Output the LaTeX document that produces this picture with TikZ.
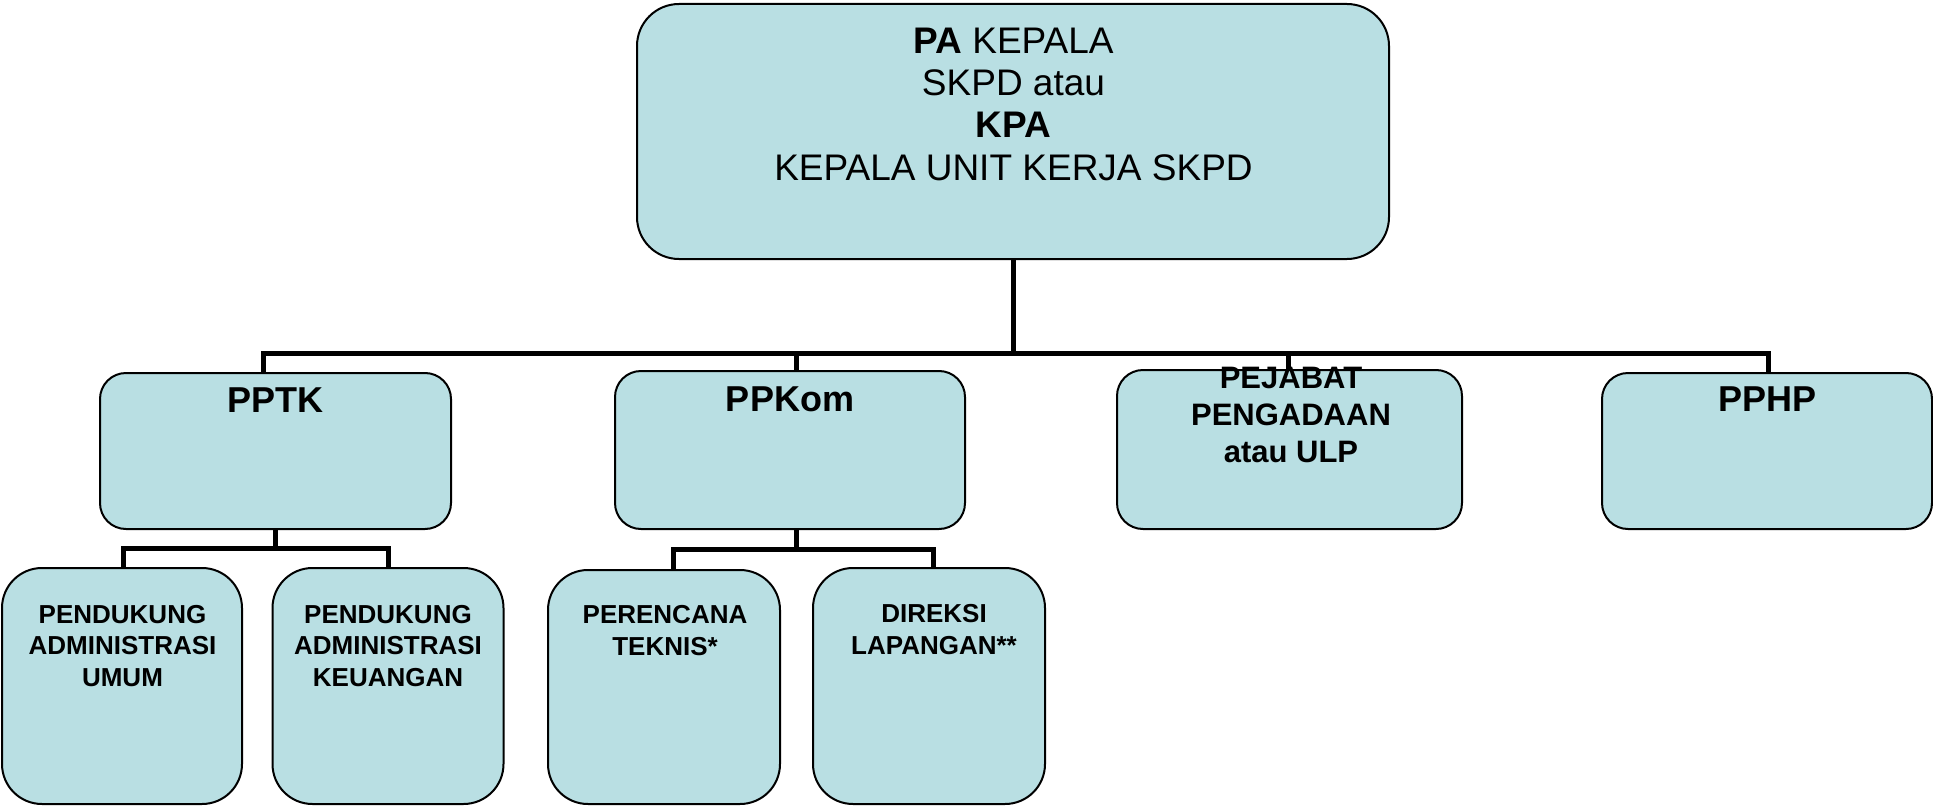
\documentclass[tikz,border=0pt]{standalone}
\usepackage{fontspec}
\setmainfont{Liberation Sans}
\definecolor{boxfill}{RGB}{185,223,227}
\begin{document}
\begin{tikzpicture}[x=1pt,y=-1pt,
  box/.style={draw=black, line width=2pt, fill=boxfill, rounded corners=#1,
    inner sep=0pt, outer sep=0pt, rectangle},
  box/.default=26pt,
  conn/.style={draw=black, line width=5pt},
  lbl/.style={anchor=base, align=center, inner sep=0pt},
  headtxt/.style={lbl, font=\fontsize{37}{42.3}\selectfont},
  midtxt/.style={lbl, font=\bfseries\fontsize{36}{42}\selectfont},
  pptxt/.style={lbl, font=\bfseries\fontsize{31}{37}\selectfont},
  lowtxt/.style={lbl, font=\bfseries\fontsize{26}{31.2}\selectfont}]
\useasboundingbox (0,0) rectangle (1933,808);

% bus levels of the elbow connectors
\coordinate (busA) at (0,353);
\coordinate (busB) at (0,548);
\coordinate (busC) at (0,549);

% boxes
\node[box=42pt, minimum width=752pt, minimum height=255pt] (top) at (1013,131.5) {};
\node[box, minimum width=351pt, minimum height=156pt] (pptk) at (275.5,451) {};
\node[box, minimum width=350pt, minimum height=158pt] (ppkom) at (790,450) {};
\node[box, minimum width=345pt, minimum height=159pt] (pejabat) at (1289.5,449.5) {};
\node[box, minimum width=330pt, minimum height=156pt] (pphp) at (1767,451) {};
\node[box=40pt, minimum width=240pt, minimum height=236pt] (pdu) at (122,686) {};
\node[box=40pt, minimum width=231pt, minimum height=236pt] (pdk) at (388,686) {};
\node[box=40pt, minimum width=232pt, minimum height=234pt] (renc) at (664,687) {};
\node[box=40pt, minimum width=232pt, minimum height=236pt] (dir) at (929,686) {};

% connectors from the head box
\draw[conn] (top.south) -- (top.south |- busA) -| ([xshift=-12.5pt]pptk.north);
\draw[conn] (top.south) -- (top.south |- busA) -| ([xshift=6pt]ppkom.north);
\draw[conn] (top.south) -- (top.south |- busA) -| ([xshift=-1.5pt]pejabat.north);
\draw[conn] (top.south) -- (top.south |- busA) -| ([xshift=1pt]pphp.north);

% connectors below PPTK
\draw[conn] (pptk.south) -- (pptk.south |- busB) -| ([xshift=1pt]pdu.north);
\draw[conn] (pptk.south) -- (pptk.south |- busB) -| (pdk.north);

% connectors below PPKom
\draw[conn] ([xshift=6pt]ppkom.south) -- ([xshift=6pt]ppkom.south |- busC) -| ([xshift=9pt]renc.north);
\draw[conn] ([xshift=6pt]ppkom.south) -- ([xshift=6pt]ppkom.south |- busC) -| ([xshift=4pt]dir.north);

% labels (base anchor sits on the last line)
\node[headtxt] (top-t) at (1013.5,180) {\textbf{PA} KEPALA\\SKPD atau\\\textbf{KPA}\\KEPALA UNIT KERJA SKPD};
\node[midtxt] (pptk-t) at (275.5,412) {PPTK};
\node[midtxt] (ppkom-t) at (790,411) {PPKom};
\node[pptxt] (pejabat-t) at (1291,462) {PEJABAT\\PENGADAAN\\atau ULP};
\node[midtxt] (pphp-t) at (1767.5,411) {PPHP};
\node[lowtxt] (pdu-t) at (122.5,686) {PENDUKUNG\\ADMINISTRASI\\UMUM};
\node[lowtxt] (pdk-t) at (388,686) {PENDUKUNG\\ADMINISTRASI\\KEUANGAN};
\node[lowtxt] (renc-t) at (665,655) {PERENCANA\\TEKNIS*};
\node[lowtxt] (dir-t) at (934,654) {DIREKSI\\LAPANGAN**};
\end{tikzpicture}
\end{document}
